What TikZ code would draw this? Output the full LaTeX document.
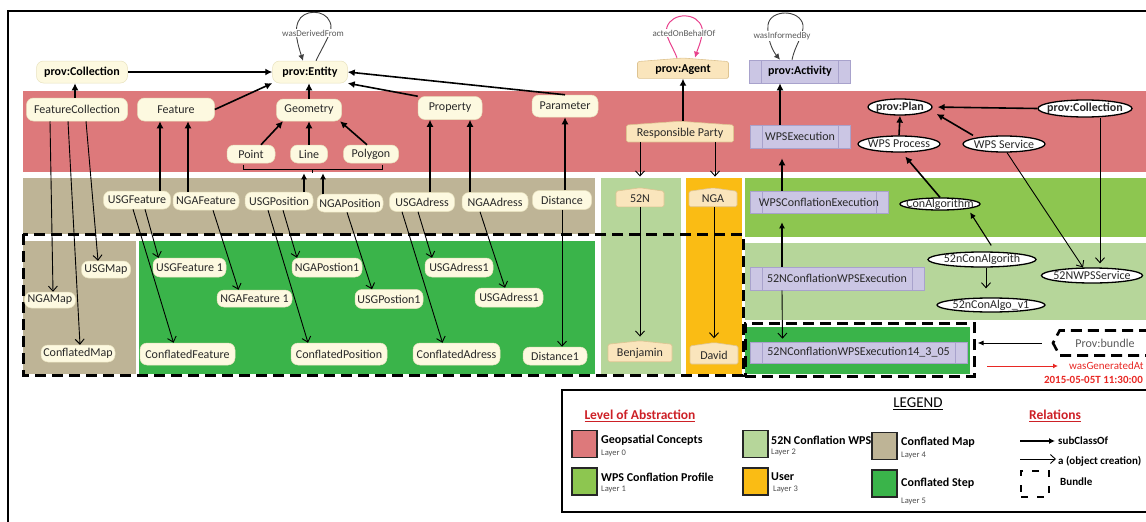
\documentclass[tikz,border=0pt]{standalone}
\usepackage{fontspec}
\setmainfont{Carlito}
\usetikzlibrary{shapes.geometric,shapes.symbols,arrows.meta}

\definecolor{layerzero}{RGB}{221,121,123}
\definecolor{layerone}{RGB}{141,198,80}
\definecolor{layertwo}{RGB}{182,214,154}
\definecolor{layerthree}{RGB}{250,188,20}
\definecolor{layerfour}{RGB}{190,180,150}
\definecolor{layerfive}{RGB}{58,180,74}
\definecolor{cream}{RGB}{253,249,224}
\definecolor{creamline}{RGB}{232,226,190}
\definecolor{peach}{RGB}{250,229,188}
\definecolor{peachline}{RGB}{222,196,146}
\definecolor{lavender}{RGB}{203,198,228}
\definecolor{lavline}{RGB}{168,162,204}
\definecolor{inkgray}{RGB}{40,40,40}
\definecolor{labgray}{RGB}{90,90,90}
\definecolor{relred}{RGB}{205,32,38}
\definecolor{genred}{RGB}{232,40,36}
\definecolor{loopink}{RGB}{232,64,140}

\tikzset{
  nf/.style={font=\fontsize{12}{14}\selectfont},
  bf/.style={font=\bfseries\fontsize{12}{14}\selectfont},
  ent/.style={rectangle, rounded corners=7pt, fill=cream, draw=creamline,
    line width=0.5pt, text=inkgray, inner sep=0pt, nf},
  entbold/.style={ent, bf, text=black},
  agent/.style={signal, signal to=north, rounded corners=1.5pt, fill=peach,
    draw=peachline, line width=0.6pt, text=inkgray, inner sep=0pt, nf},
  activity/.style={rectangle, fill=lavender, draw=lavline, line width=0.6pt,
    text=inkgray, inner sep=0pt, nf,
    path picture={
      \draw[lavline, line width=0.8pt]
        ([xshift=12pt]path picture bounding box.north west) --
        ([xshift=12pt]path picture bounding box.south west)
        ([xshift=-12pt]path picture bounding box.north east) --
        ([xshift=-12pt]path picture bounding box.south east);}},
  oval/.style={ellipse, draw=black, line width=1.3pt, fill=white, text=inkgray,
    inner xsep=-25pt, inner ysep=-8pt, nf},
  looplabel/.style={fill=white, inner sep=1pt, text=labgray,
    font=\fontsize{9}{10}\selectfont},
  sub/.style={line width=1.6pt, -{Latex[length=7pt,width=7pt]}},
  subthin/.style={line width=1.1pt, -{Latex[length=6pt,width=6pt]}},
  obj/.style={line width=0.9pt, -{Straight Barb[length=5pt,width=9pt]}},
  bundle/.style={line width=3pt, dash pattern=on 11pt off 6pt},
  swatch/.style={draw=black!85, line width=1.4pt, minimum width=25pt,
    minimum height=27pt, inner sep=0pt},
  legt/.style={anchor=west, inner sep=0pt, font=\bfseries\fontsize{12}{14}\selectfont},
  legs/.style={anchor=west, inner sep=0pt, text=black!70, font=\fontsize{8.5}{9}\selectfont},
  legh/.style={inner sep=1pt, text=relred, font=\bfseries\fontsize{13.5}{15}\selectfont},
}

\begin{document}
\begin{tikzpicture}[x=1pt,y=-1pt]
\useasboundingbox (0,0) rectangle (1146,522);

% outer frame
\draw[line width=1.5pt] (8,11) rectangle (1160,530);

% abstraction layers
\fill[layerzero]  (23,91)  rectangle (1160,172);
\fill[layerfour]  (23,178) rectangle (595,234);
\fill[layertwo]   (601,178) rectangle (681,374);
\fill[layerthree] (686,178) rectangle (742,374);
\fill[layerone]   (745,178) rectangle (1160,237);
\fill[layertwo]   (745,243) rectangle (1160,320);
\fill[layerfour]  (23,241) rectangle (136,374);
\fill[layerfive]  (139,241) rectangle (595,374);
\fill[layerfive]  (745,327) rectangle (970,374);

% bundles
\draw[bundle] (23,234) rectangle (743,375);
\node[draw, bundle, minimum width=229pt, minimum height=53pt, inner sep=0pt] (ib) at (859.5,349.5) {};

% ---- PROV core classes
\node[entbold, minimum width=91pt, minimum height=22pt] (pcol) at (82,72) {prov:Collection};
\node[entbold, minimum width=75pt, minimum height=22pt] (pent) at (310,72) {prov:Entity};
\node[agent, bf, text=black, signal pointer angle=171, minimum width=91pt, minimum height=19pt] (pagent) at (683,70) {prov:Agent};
\node[activity, bf, text=black, minimum width=101pt, minimum height=23pt] (pact) at (800,71.5) {prov:Activity};

% ---- layer 0: geospatial concepts
\node[ent, minimum width=101pt, minimum height=23pt] (fcol) at (77,109.5) {FeatureCollection};
\node[ent, minimum width=77pt, minimum height=23pt] (feat) at (176,109.5) {Feature};
\node[ent, minimum width=65pt, minimum height=22pt] (geom) at (309,110) {Geometry};
\node[ent, minimum width=64pt, minimum height=23pt] (prop) at (450,108) {Property};
\node[ent, minimum width=66pt, minimum height=22pt] (param) at (565,106) {Parameter};
\node[ent, minimum width=48pt, minimum height=18pt] (pnt) at (251,154) {Point};
\node[ent, minimum width=37pt, minimum height=18pt] (lin) at (309,154) {Line};
\node[ent, minimum width=55pt, minimum height=18pt] (poly) at (371,154) {Polygon};
\node[agent, signal pointer angle=172, minimum width=107pt, minimum height=20pt] (rp) at (680,133.5) {Responsible Party};
\node[activity, minimum width=100pt, minimum height=23pt] (wpsexe) at (800,136.5) {WPSExecution};
\node[oval, bf, minimum width=64pt, minimum height=16pt] (plan) at (900,107) {prov:Plan};
\node[oval, bf, minimum width=94pt, minimum height=17pt] (pcol2) at (1085,108.5) {prov:Collection};
\node[oval, minimum width=82pt, minimum height=16pt] (wpsproc) at (899,144) {WPS Process};
\node[oval, minimum width=82pt, minimum height=16pt] (wpsserv) at (1004,144) {WPS Service};

% ---- layer 4: conflated map
\node[ent, minimum width=67pt, minimum height=18pt] (usgf) at (137,200) {USGFeature};
\node[ent, minimum width=66pt, minimum height=18pt] (ngaf) at (206,201) {NGAFeature};
\node[ent, minimum width=68pt, minimum height=18pt] (usgp) at (279,201) {USGPosition};
\node[ent, minimum width=66pt, minimum height=18pt] (ngap) at (350,203) {NGAPosition};
\node[ent, minimum width=65pt, minimum height=19pt] (usga) at (422,202) {USGAdress};
\node[ent, minimum width=66pt, minimum height=19pt] (ngaa) at (495,202) {NGAAdress};
\node[ent, minimum width=59pt, minimum height=19pt] (dist) at (562,200) {Distance};

% ---- layer 3: users
\node[agent, signal pointer angle=164, minimum width=48pt, minimum height=17pt] (n52) at (640,199) {52N};
\node[agent, signal pointer angle=164, minimum width=48pt, minimum height=17pt] (nga) at (713,199) {NGA};

% ---- layer 1: WPS conflation profile
\node[activity, minimum width=138pt, minimum height=22pt] (wpsce) at (819,202) {WPSConflationExecution};
\node[oval, minimum width=80pt, minimum height=12pt] (conalg) at (940,204) {ConAlgorithm};

% ---- layer 2: 52N conflation WPS
\node[activity, minimum width=174pt, minimum height=23pt] (n52ce) at (837,278.5) {52NConflationWPSExecution};
\node[oval, minimum width=108pt, minimum height=15pt] (n52alg) at (982,259.5) {52nConAlgorith};
\node[oval, minimum width=108pt, minimum height=14pt] (n52algv) at (991,305) {52nConAlgo\_v1};
\node[oval, minimum width=101pt, minimum height=15pt] (n52ws) at (1092,275.5) {52NWPSService};

% ---- layer 5: conflated step
\node[activity, minimum width=217pt, minimum height=21pt] (exe14) at (858.5,352.5) {52NConflationWPSExecution14\_3\_05};
\node[ent, minimum width=49pt, minimum height=17pt] (usgmap) at (106,269.5) {USGMap};
\node[ent, minimum width=51pt, minimum height=16pt] (ngamap) at (50,300) {NGAMap};
\node[ent, minimum width=74pt, minimum height=17pt] (cmap) at (78,353.5) {ConflatedMap};
\node[ent, minimum width=73pt, minimum height=19pt] (usgf1) at (189.5,267.5) {USGFeature 1};
\node[ent, minimum width=75pt, minimum height=17pt] (ngaf1) at (254.5,298.5) {NGAFeature 1};
\node[ent, minimum width=95pt, minimum height=22pt] (cfeat) at (187.5,354) {ConflatedFeature};
\node[ent, minimum width=70pt, minimum height=19pt] (ngap1) at (327,267.5) {NGAPostion1};
\node[ent, minimum width=68pt, minimum height=19pt] (usgp1) at (389,299) {USGPostion1};
\node[ent, minimum width=96pt, minimum height=22pt] (cpos) at (339,354) {ConflatedPosition};
\node[ent, minimum width=68pt, minimum height=19pt] (usga1a) at (459,267.5) {USGAdress1};
\node[ent, minimum width=68pt, minimum height=19pt] (usga1b) at (509,297.5) {USGAdress1};
\node[ent, minimum width=87pt, minimum height=22pt] (cadr) at (456.5,354) {ConflatedAdress};
\node[ent, minimum width=64pt, minimum height=18pt] (dist1) at (555,356) {Distance1};
\node[agent, signal pointer angle=168, minimum width=64pt, minimum height=20pt] (benj) at (640,353) {Benjamin};
\node[agent, signal pointer angle=164, minimum width=48pt, minimum height=20pt] (david) at (714,355) {David};

% ---- bundle marker and generation time
\node[signal, signal to=west and east, signal pointer angle=124, draw, bundle,
  line width=2.6pt, fill=white, minimum width=104pt, minimum height=25pt,
  inner sep=0pt, text=labgray, nf] (pb) at (1105,343) {Prov:bundle};
\coordinate (gstart) at (987,366);
\node[anchor=west, text=genred, inner sep=0pt, font=\fontsize{11}{12}\selectfont] (wga) at (1069,366) {wasGeneratedAt};
\node[anchor=east, text=genred, inner sep=0pt, font=\bfseries\fontsize{11}{12}\selectfont] (gdate) at (1143,380) {2015-05-05T 11:30:00};
\draw[line width=1pt, -{Latex[length=6pt,width=5pt]}, shorten <=10pt, shorten >=2pt] (pb.west) -- (pb.west -| ib.east);
\draw[genred, line width=1pt, -{Latex[length=5pt,width=5pt]}] (gstart) -- ([xshift=-11pt]wga.west);

% ---- self loops with their labels
\draw[line width=0.9pt, black!75, -{Latex[length=6pt,width=6pt]}]
  ([xshift=6pt]pent.north) .. controls (326,40) and (334,30) .. (330,22)
  .. controls (325,9) and (303,9) .. (298,22)
  .. controls (294,32) and (298,45) .. ([xshift=-7pt]pent.north);
\node[looplabel] (wdf) at (313,33) {wasDerivedFrom};
\draw[line width=1pt, loopink, -{Latex[length=6pt,width=6pt]}]
  ([xshift=-6pt]pagent.north) .. controls (672,45) and (664,35) .. (667,27)
  .. controls (672,12) and (698,12) .. (702,28)
  .. controls (703,38) and (698,48) .. ([xshift=12pt]pagent.north);
\node[looplabel] (aob) at (684,33) {actedOnBehalfOf};
\draw[line width=0.9pt, black!75, -{Latex[length=6pt,width=6pt]}]
  ([xshift=-8pt]pact.north) .. controls (795,45) and (804,35) .. (803,25)
  .. controls (800,9) and (770,9) .. (768,25)
  .. controls (767,38) and (772,50) .. ([xshift=-20pt]pact.north);
\node[looplabel] (wib) at (782,36) {wasInformedBy};

% ---- subClassOf relations
\draw[sub] (pcol.east) -- (pent.west);
\draw[sub] ([xshift=-2pt]fcol.north) -- ([xshift=-7pt]pcol.south);
\draw[sub] (feat.east) -- (pent.south west);
\draw[sub] (geom.north) -- ([xshift=-1pt]pent.south);
\draw[sub] (prop.north west) -- (pent.south east);
\draw[sub] (param.north) -- (pent.east);
\draw[sub] ([xshift=10pt]pnt.north) -- ([xshift=-26pt]geom.south);
\draw[sub] (lin.north) -- (geom.south);
\draw[sub] ([xshift=-4pt]poly.north) -- ([xshift=31pt]geom.south);
\draw[line width=1pt] ([xshift=-8pt,yshift=-2pt]pnt.south) -- ++(0,4)
  -- ([xshift=11pt,yshift=-6pt]poly.south) -- ++(0,-4);
\coordinate (brk) at ([xshift=61pt,yshift=-6pt]pnt.south);
\draw[line width=1pt] (brk) -- ++(0,4);
\draw[subthin] ([xshift=25pt]usgp.north) -- ([xshift=-8pt,yshift=-4pt]brk);
\draw[subthin] ([xshift=-27pt]ngap.north) -- ([xshift=11pt,yshift=-4pt]brk);
\draw[sub] ([xshift=23pt]usgf.north) -- ([xshift=-16pt]feat.south);
\draw[sub] ([xshift=-18pt]ngaf.north) -- ([xshift=12pt]feat.south);
\draw[sub] ([xshift=8pt]usga.north) -- ([xshift=-20pt]prop.south);
\draw[sub] ([xshift=-25pt]ngaa.north) -- ([xshift=20pt]prop.south);
\draw[sub] ([xshift=3pt]dist.north) -- (param.south);
\draw[sub] ([xshift=3pt]rp.north) -- (pagent.south);
\draw[sub] ([xshift=-20pt]wpsexe.north) -- ([xshift=-20pt]pact.south);
\draw[sub, shorten >=10pt] ([xshift=-37pt]wpsce.north) -- ([xshift=-18pt]wpsexe.south);
\draw[subthin, shorten >=9pt] ([xshift=-55pt]n52ce.north) -- ([xshift=-37pt]wpsce.south);
\draw[sub] (wpsproc.north) -- (plan.south);
\draw[sub] ([xshift=-31pt]wpsserv.north) -- ([xshift=4pt,yshift=-7pt]plan.east);
\draw[sub, shorten >=5pt] (pcol2.west) -- (plan.east);
\draw[sub, shorten >=5pt] (conalg.north) -- ([xshift=3pt]wpsproc.south);
\draw[subthin, shorten <=7pt, shorten >=2pt] ([xshift=13pt]n52alg.north) -- ([xshift=29pt]conalg.south);

% ---- object creation relations
\draw[obj] ([xshift=-27pt]fcol.south) -- ([xshift=3pt]ngamap.north);
\draw[obj] ([xshift=-9pt]fcol.south) -- ([xshift=2pt]cmap.north);
\draw[obj] ([xshift=9pt]fcol.south) -- ([xshift=-8pt]usgmap.north);
\draw[obj] ([xshift=8pt]usgf.south) -- ([xshift=-31pt]usgf1.north);
\draw[obj] ([xshift=-4pt]usgf.south) -- ([xshift=-14pt]cfeat.north);
\draw[obj] ([xshift=7pt]ngaf.south) -- ([xshift=-16pt]ngaf1.north);
\draw[obj] ([xshift=4pt]usgp.south) -- ([xshift=-30pt]ngap1.north);
\draw[obj] ([xshift=-11pt]usgp.south) -- ([xshift=-31pt]cpos.north);
\draw[obj] ([xshift=-3pt]ngap.south) -- ([xshift=-17pt]usgp1.north);
\draw[obj] ([xshift=-4pt]usga.south) -- ([xshift=-27pt]usga1a.north);
\draw[obj] ([xshift=-20pt]usga.south) -- ([xshift=-14pt]cadr.north);
\draw[obj] ([xshift=-15pt]ngaa.south) -- ([xshift=-4pt]usga1b.north);
\draw[obj] (dist.south) -- ([xshift=7pt]dist1.north);
\draw[obj, shorten >=11pt] ([xshift=-40pt]rp.south) -- (n52.north);
\draw[obj, shorten >=11pt] ([xshift=35pt]rp.south) -- ([xshift=2pt]nga.north);
\draw[obj, shorten >=4pt] (n52.south) -- (benj.north);
\draw[obj, shorten >=4pt] ([xshift=1pt]nga.south) -- (david.north);
\draw[obj, shorten >=3pt] ([xshift=-55pt]n52ce.south) -- ([xshift=-76pt]exe14.north);
\draw[obj] ([xshift=3pt]wpsserv.south) -- ([xshift=-9pt]n52ws.north);
\draw[obj, shorten >=4pt] ([xshift=15pt]pcol2.south) -- ([xshift=8pt]n52ws.north);
\draw[obj, shorten >=9pt] ([xshift=4pt]n52alg.south) -- ([xshift=-5pt]n52algv.north);

% ---- legend
\draw[line width=1.6pt] (562,390) rectangle (1160,512);
\node[inner sep=1pt, font=\fontsize{15}{16}\selectfont] (lgd) at (918,404) {\underline{LEGEND}};
\node[legh] (loa) at (640,416) {\underline{Level of Abstraction}};
\node[legh] (rel) at (1055,416) {\underline{Relations}};
\node[swatch, fill=layerzero] (s0) at (584.5,444) {};
\node[legt] (t0) at (601,440) {Geopsatial Concepts};
\node[legs] (l0) at (601,453) {Layer 0};
\node[swatch, fill=layerone] (s1) at (584.5,481.5) {};
\node[legt] (t1) at (601,477) {WPS Conflation Profile};
\node[legs] (l1) at (601,489) {Layer 1};
\node[swatch, fill=layertwo] (s2) at (755.5,444) {};
\node[legt] (t2) at (771,440) {52N Conflation WPS};
\node[legs] (l2) at (771,452) {Layer 2};
\node[swatch, fill=layerthree] (s3) at (755.5,481.5) {};
\node[legt] (t3) at (771,477) {User};
\node[legs] (l3) at (773,489) {Layer 3};
\node[swatch, fill=layerfour] (s4) at (884.5,446) {};
\node[legt] (t4) at (901,442) {Conflated Map};
\node[legs] (l4) at (901,455) {Layer 4};
\node[swatch, fill=layerfive] (s5) at (884.5,483.5) {};
\node[legt] (t5) at (901,483) {Conflated Step};
\node[legs] (l5) at (901,501) {Layer 5};
\coordinate (r1) at (1020,441);
\node[legt, font=\bfseries\fontsize{11}{12}\selectfont] (rt1) at (1058,441) {subClassOf};
\draw[line width=1.2pt, -{Latex[length=6pt,width=6pt]}, shorten >=3pt] (r1) -- (rt1.west);
\coordinate (r2) at (1020,459);
\node[legt, font=\bfseries\fontsize{11}{12}\selectfont] (rt2) at (1058,461) {a (object creation)};
\draw[obj, shorten >=2pt] (r2) -- ([yshift=2pt]rt2.west);
\node[draw, line width=2.4pt, dash pattern=on 7pt off 9pt, minimum width=28pt,
  minimum height=26pt, inner sep=0pt] (bsym) at (1035,484) {};
\node[legt, font=\bfseries\fontsize{11}{12}\selectfont] (rt3) at (1060,482) {Bundle};
\end{tikzpicture}
\end{document}
